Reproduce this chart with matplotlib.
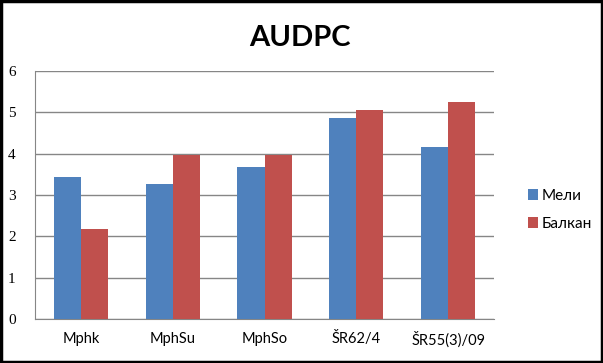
import matplotlib
matplotlib.use("Agg")
import matplotlib.pyplot as plt
from matplotlib.patches import Rectangle
import numpy as np

categories = ["Mphk", "MphSu", "MphSo", "ŠR62/4", "ŠR55(3)/09"]
meli = [3.44, 3.27, 3.68, 4.87, 4.16]
balkan = [2.18, 3.97, 3.97, 5.06, 5.25]
series_names = ["Мели", "Балкан"]
y_ticks = [0, 1, 2, 3, 4, 5, 6]

W, H = 603, 363
fig = plt.figure(figsize=(W / 100, H / 100), dpi=100)
ax = fig.add_axes([35 / W, 1 - 319 / H, (494 - 35) / W, (319 - 71) / H])

x = np.arange(len(categories))
bw = 0.295
ax.bar(x - bw / 2, meli, bw, color="#4F81BD", label=series_names[0], zorder=3)
ax.bar(x + bw / 2, balkan, bw, color="#C0504D", label=series_names[1], zorder=3)

ax.set_xlim(-0.5, len(categories) - 0.5)
ax.set_ylim(0, 6)
ax.set_yticks(y_ticks)
ax.set_yticklabels([str(t) for t in y_ticks], fontfamily="Liberation Serif", fontsize=11)
ax.set_xticks(x)
ax.set_xticklabels(categories, fontfamily="Lato", fontsize=10.5)
ax.tick_params(axis="y", length=0, pad=14)
ax.tick_params(axis="x", length=0, pad=9)
ax.grid(axis="y", color="#868686", linewidth=1, zorder=0)
for s in ["top", "right"]:
    ax.spines[s].set_visible(False)
for s in ["left", "bottom"]:
    ax.spines[s].set_color("#868686")

fig.text(300 / W, 1 - 38 / H, "AUDPC", ha="center", va="center",
         fontfamily="Lato", fontweight="bold", fontsize=21)

fig.legend(loc="upper left", bbox_to_anchor=(514 / W, 1 - 175 / H),
           frameon=False, prop={"family": "Lato", "size": 11},
           handlelength=0.7, handleheight=0.7, handletextpad=0.2,
           labelspacing=0.9)

# black frame around the whole chart
fig.patches.append(Rectangle((0.002, 0.003), 0.996, 0.994, transform=fig.transFigure,
                             fill=False, edgecolor="black", linewidth=2.5,
                             joinstyle="miter"))

fig.savefig("out.png", dpi=100, facecolor="white")
